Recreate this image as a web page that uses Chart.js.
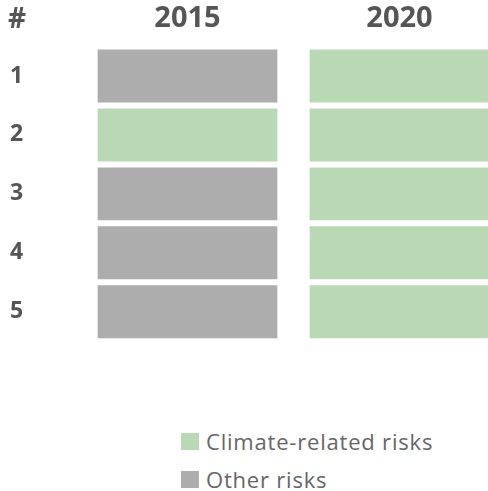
<!DOCTYPE html>
<html>
<head>
<meta charset="utf-8">
<script src="https://cdn.jsdelivr.net/npm/chart.js@4"></script>
<style>
html,body{margin:0;padding:0;background:#fff;overflow:hidden;width:488px;height:491px;position:relative;}
#wrap{position:absolute;left:0;top:0;width:506px;height:358px;}
#legend{position:absolute;left:181px;top:422px;font-family:"Open Sans";font-size:22px;letter-spacing:0.8px;color:#666;}
.item{display:flex;align-items:center;height:38px;}
.box{width:18px;height:17px;margin-right:7px;}
</style>
</head>
<body>
<div id="wrap"><canvas id="chartRisiko"></canvas></div>
<div id="legend"></div>
<script>
// ==========================
// DATA
// ==========================

const tahun = ["2015", "2020"];
const peringkat = ["1", "2", "3", "4", "5"];

// risk type of each rank, per year
const risiko2015 = ["other", "climate", "other", "other", "other"];
const risiko2020 = ["climate", "climate", "climate", "climate", "climate"];

const jenisRisiko = ["climate", "other"];
const labelRisiko = ["Climate-related risks", "Other risks"];
const warnaRisiko = ["#b8d9b4", "#adadad"];

const warnaTeks = "#555555";

function warna(jenis) {
  return warnaRisiko[jenisRisiko.indexOf(jenis)];
}

// one stacked dataset per rank, each cell counts as 1
const datasets = peringkat.map(function (p, i) {
  return {
    label: p,
    data: [1, 1],
    backgroundColor: [warna(risiko2015[i]), warna(risiko2020[i])],
    borderColor: "#ffffff",
    borderWidth: { top: 3, bottom: 3, left: 0, right: 0 },
    borderSkipped: false,
    barPercentage: 0.85,
    categoryPercentage: 1
  };
});

// "#" header above the rank column
const pagarHeader = {
  id: "pagarHeader",
  afterDraw(chart) {
    const ctx = chart.ctx;
    const x = chart.scales.x;
    const y = chart.scales.y;
    ctx.save();
    ctx.font = "bold 28px 'Open Sans'";
    ctx.fillStyle = warnaTeks;
    ctx.textAlign = "left";
    ctx.textBaseline = "middle";
    ctx.fillText("#", y.left - 2, x.bottom - 10 - 16.8);
    ctx.restore();
  }
};

new Chart(document.getElementById("chartRisiko"), {
  type: "bar",
  data: {
    labels: tahun,
    datasets: datasets
  },
  options: {
    responsive: true,
    maintainAspectRatio: false,
    animation: false,
    layout: { padding: { left: 10, right: 0.5, top: 0, bottom: 0 } },
    plugins: {
      legend: { display: false },
      tooltip: { enabled: false }
    },
    scales: {
      x: {
        stacked: true,
        position: "top",
        grid: { display: false, drawTicks: false },
        border: { display: false },
        ticks: {
          padding: 10,
          color: warnaTeks,
          font: { family: "Open Sans", size: 29, weight: "bold" }
        },
        afterFit(scale) { scale.height = 46.5; }
      },
      y: {
        stacked: true,
        reverse: true,
        min: 0,
        max: peringkat.length,
        grid: { display: false },
        border: { display: false },
        afterBuildTicks(scale) {
          scale.ticks = peringkat.map(function (p, i) { return { value: i + 0.5 }; });
        },
        ticks: {
          crossAlign: "far",
          color: warnaTeks,
          font: { family: "Open Sans", size: 23, weight: "bold" },
          callback: function (value) { return peringkat[Math.floor(value)]; }
        },
        afterFit(scale) { scale.width = 71.5; }
      }
    }
  },
  plugins: [pagarHeader]
});

// legend below the chart
const legend = document.getElementById("legend");
labelRisiko.forEach(function (l, i) {
  const item = document.createElement("div");
  item.className = "item";
  item.innerHTML = '<span class="box" style="background:' + warnaRisiko[i] + '"></span>' + l;
  legend.appendChild(item);
});
</script>
</body>
</html>
